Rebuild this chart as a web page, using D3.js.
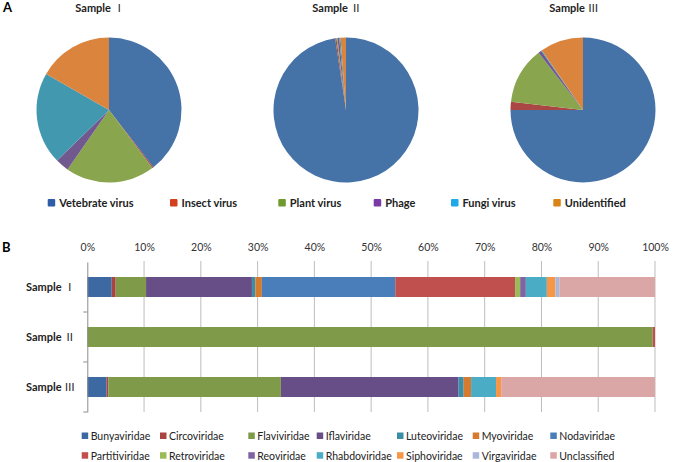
<!DOCTYPE html>
<html><head><meta charset="utf-8">
<script src="https://cdn.jsdelivr.net/npm/d3@7"></script>
<style>
body{margin:0;background:#fff;}
svg{display:block;}
text{font-family:Lato,"Open Sans","Noto Sans CJK SC",sans-serif;}
</style></head>
<body><svg id="c" width="673" height="462"></svg>
<script>
// ---------- DATA ----------
const pieCategories = ["Vetebrate virus","Insect virus","Plant virus","Phage","Fungi virus","Unidentified"];
const sampleNames = ["Sample \u2160","Sample \u2161","Sample \u2162"];
const pieSample1 = [39.5, 0.3, 19.9, 3.0, 20.6, 16.7];
const pieSample2 = [97.6, 0.3, 0.2, 0.4, 0.3, 1.2];
const pieSample3 = [75.0, 1.8, 12.7, 0.7, 0.2, 9.6];

const families = ["Bunyaviridae","Circoviridae","Flaviviridae","Iflaviridae","Luteoviridae","Myoviridae","Nodaviridae",
  "Partitiviridae","Retroviridae","Reoviridae","Rhabdoviridae","Siphoviridae","Virgaviridae","Unclassified"];
const barSample1 = [4.3, 0.7, 5.35, 18.65, 0.6, 1.15, 23.5, 21.1, 0.9, 1.0, 3.7, 1.5, 0.7, 16.85];
const barSample2 = [0, 0, 99.6, 0, 0, 0, 0, 0.4, 0, 0, 0, 0, 0, 0];
const barSample3 = [3.4, 0.3, 30.4, 31.3, 0.9, 1.3, 0, 0, 0, 0, 4.4, 0.9, 0, 27.1];
const percentTicks = [0,10,20,30,40,50,60,70,80,90,100];

// ---------- STYLE ----------
const pieColors = ["#4572A7","#AA4643","#89A54E","#71588F","#4198AF","#DB843D"];
const pieLegendColors = ["#2E5CA8","#D4401E","#6E9A2E","#7A3BA6","#1EA9E8","#DA8418"];
const famColors = ["#3D69A3","#A94442","#7F9B4A","#684E87","#3A8FA8","#D67A2E","#4A7EBB",
  "#C0504D","#9BBB59","#8064A2","#4BACC6","#F79646","#A9B8DA","#DBA6A6"];

const svg = d3.select("#c");
svg.append("rect").attr("width",673).attr("height",462).attr("fill","#fff");

// write "Sample" + roman numeral with the numeral in a CJK font
function sampleLabel(sel, name){
  const parts = name.split(" ");
  sel.text(null);
  sel.append("tspan").text(parts[0] + " ");
  sel.append("tspan").attr("font-family","'Noto Sans CJK SC', sans-serif").attr("font-weight","normal").text(parts[1]);
}

// ---------- PANEL A ----------
svg.append("text").attr("x",3).attr("y",12).attr("font-size",13).attr("font-weight","bold")
  .attr("font-family","Liberation Sans, Arial, sans-serif").text("A");

const pieCenters = [[109,110],[346,110],[583,110]];
const pieData = [pieSample1, pieSample2, pieSample3];
const pie = d3.pie().sort(null).value(d=>d);
const arc = d3.arc().innerRadius(0).outerRadius(72.5);
pieData.forEach((vals,i)=>{
  const g = svg.append("g").attr("transform",`translate(${pieCenters[i][0]},${pieCenters[i][1]})`);
  g.selectAll("path").data(pie(vals)).join("path")
    .attr("d",arc).attr("fill",(d,j)=>pieColors[j]);
  const t = svg.append("text").attr("x",pieCenters[i][0]-9).attr("y",12).attr("text-anchor","middle")
    .attr("font-size",11).attr("font-weight","bold").attr("fill","#222");
  sampleLabel(t, sampleNames[i]);
});

const legAx = [47.7,170,278.3,373.7,451,553.3];
const legA = svg.append("g");
pieCategories.forEach((c,i)=>{
  legA.append("rect").attr("x",legAx[i]).attr("y",199).attr("width",7.5).attr("height",7.5)
    .attr("rx",1).attr("fill",pieLegendColors[i]);
  legA.append("text").attr("x",legAx[i]+11.5).attr("y",206.5).attr("font-size",11)
    .attr("font-weight","bold").attr("fill","#222").text(c);
});

// ---------- PANEL B ----------
svg.append("text").attr("x",2).attr("y",252).attr("font-size",13).attr("font-weight","bold")
  .attr("font-family","Liberation Sans, Arial, sans-serif").text("B");

const x0 = 87.3, x1 = 655, yTop = 262, yBot = 412;
const x = d3.scaleLinear().domain([0,100]).range([x0,x1]);
const y = d3.scaleBand().domain(sampleNames).range([yTop,yBot]).paddingInner(0.6).paddingOuter(0.3);
const yCat = d3.scaleBand().domain(sampleNames).range([yTop,yBot]);

// gridlines
svg.append("g").selectAll("line").data(percentTicks.slice(1)).join("line")
  .attr("x1",d=>x(d)).attr("x2",d=>x(d)).attr("y1",yTop-1).attr("y2",yBot)
  .attr("stroke","#BDBDBD").attr("stroke-width",1);

// top axis
const ax = svg.append("g").attr("transform",`translate(0,${yTop-1})`)
  .call(d3.axisTop(x).tickValues(percentTicks).tickFormat(d=>d+"%").tickSize(0).tickPadding(10));
ax.select(".domain").remove();
ax.selectAll("text").attr("font-size",10.5).attr("fill","#333").attr("font-family","Lato, sans-serif");

// stacked bars
const barData = [barSample1, barSample2, barSample3];
barData.forEach((vals,si)=>{
  let acc = 0;
  const segs = vals.map((v,k)=>{ const s={k, a:acc, b:acc+v}; acc+=v; return s; }).filter(s=>s.b>s.a);
  svg.append("g").selectAll("rect").data(segs).join("rect")
    .attr("x",d=>x(d.a)).attr("width",d=>x(d.b)-x(d.a))
    .attr("y",y(sampleNames[si])).attr("height",y.bandwidth())
    .attr("fill",d=>famColors[d.k]);
});

// left category axis
const la = svg.append("g").attr("transform",`translate(${x0},0)`)
  .call(d3.axisLeft(yCat).tickSize(0).tickPadding(12));
la.select(".domain").attr("stroke","#8C8C8C");
la.selectAll("text").attr("font-size",11).attr("font-weight","bold").attr("fill","#222")
  .attr("font-family","Lato, sans-serif").each(function(d){ sampleLabel(d3.select(this), d); });
svg.append("g").selectAll("line").data(sampleNames.slice(1).map(s=>yCat(s)).concat([yBot])).join("line")
  .attr("x1",x0-4).attr("x2",x0).attr("y1",d=>d).attr("y2",d=>d).attr("stroke","#8C8C8C");

// legend B
const legBx = [81.7,160,248.3,316.7,397,472.7,550.3];
const legB = svg.append("g");
families.forEach((f,i)=>{
  const col = i%7, row = Math.floor(i/7);
  const yy = row===0 ? 436 : 455.7;
  legB.append("rect").attr("x",legBx[col]).attr("y",yy-3.5).attr("width",6.5).attr("height",6.5)
    .attr("fill",famColors[i]);
  legB.append("text").attr("x",legBx[col]+9).attr("y",yy+3.8).attr("font-size",10.5)
    .attr("fill","#222").text(f);
});
</script></body></html>
